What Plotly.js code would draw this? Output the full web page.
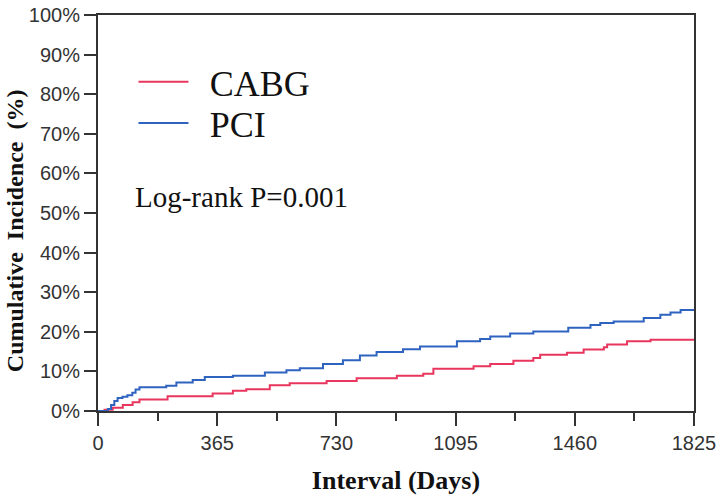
<!DOCTYPE html>
<html>
<head>
<meta charset="utf-8">
<script src="https://cdn.plot.ly/plotly-3.0.1.min.js"></script>
<style>html,body{margin:0;padding:0;background:#fff;}#chart{width:718px;height:495px;}</style>
</head>
<body>
<div id="chart"></div>
<script>
// Data
const seriesNames = ["CABG", "PCI"];
const cabgDays = [0, 20, 45, 76, 106, 127, 213, 351, 413, 454, 526, 587, 700, 792, 915, 996, 1027, 1150, 1201, 1272, 1333, 1354, 1436, 1487, 1549, 1559, 1620, 1692, 1825];
const cabgPct  = [0, 0.3, 0.8, 1.5, 2.2, 2.9, 3.7, 4.4, 5.1, 5.5, 6.5, 7.0, 7.6, 8.3, 8.9, 9.4, 10.7, 11.3, 11.9, 12.7, 13.4, 14.2, 14.7, 15.5, 16.1, 16.8, 17.6, 18.0, 18.0];
const pciDays = [0, 25, 30, 40, 50, 60, 75, 90, 105, 115, 127, 209, 240, 290, 327, 413, 511, 577, 618, 689, 750, 802, 853, 934, 986, 1099, 1170, 1201, 1262, 1333, 1440, 1508, 1538, 1579, 1671, 1722, 1753, 1784, 1825];
const pciPct  = [0, 0, 0.5, 1.5, 2.5, 3.3, 3.6, 4.0, 4.6, 5.4, 6.0, 6.4, 7.2, 7.8, 8.6, 8.9, 9.7, 10.3, 10.8, 11.9, 12.8, 14.0, 14.9, 15.6, 16.3, 17.6, 18.2, 18.8, 19.6, 20.1, 21.0, 21.7, 22.2, 22.6, 23.5, 24.3, 24.9, 25.5, 25.5];
const xTickVals = [0, 365, 730, 1095, 1460, 1825];
const yTickVals = [0, 10, 20, 30, 40, 50, 60, 70, 80, 90, 100];
const xTitle = "Interval (Days)";
const yTitle = "Cumulative\u00a0\u00a0Incidence\u00a0\u00a0(%)";
const annotationText = "Log-rank P=0.001";

const pad = '\u00a0\u2009';
const traces = [
  {x: cabgDays, y: cabgPct, name: pad + seriesNames[0], type: 'scatter', mode: 'lines',
   legend: 'legend', line: {shape: 'hv', color: '#e8365e', width: 2}},
  {x: pciDays, y: pciPct, name: pad + seriesNames[1], type: 'scatter', mode: 'lines',
   legend: 'legend2', line: {shape: 'hv', color: '#2f63c0', width: 2}}
];

const serif = 'Liberation Serif, Times New Roman, serif';
const legendStyle = (y) => ({x: 0.0595, y: y, xanchor: 'left', yanchor: 'middle',
  font: {family: serif, size: 36, color: '#111'},
  bgcolor: 'rgba(0,0,0,0)', itemwidth: 50});

const axisLine = '#333333';
const layout = {
  width: 718, height: 495, autosize: false,
  paper_bgcolor: '#ffffff', plot_bgcolor: '#ffffff',
  margin: {l: 98, r: 24, t: 15, b: 84, pad: 0},
  showlegend: true,
  legend: legendStyle(0.831),
  legend2: legendStyle(0.727),
  xaxis: {range: [0, 1825], tickvals: xTickVals, ticktext: xTickVals.map(String),
    showgrid: false, zeroline: false, showline: true, linecolor: axisLine, linewidth: 2, mirror: true,
    ticks: 'outside', ticklen: 13, tickwidth: 2, tickcolor: axisLine,
    minor: {dtick: 182.5, tick0: 0, ticks: 'outside', ticklen: 8, tickwidth: 2, tickcolor: axisLine, showgrid: false},
    tickfont: {family: 'Liberation Sans, Arial, sans-serif', size: 20, color: '#333'},
    title: {text: xTitle, standoff: 19,
      font: {family: serif, size: 26, color: '#111', weight: 'bold'}}},
  yaxis: {range: [0, 100], tickvals: yTickVals, ticktext: yTickVals.map(v => v + '%'),
    showgrid: false, zeroline: false, showline: true, linecolor: axisLine, linewidth: 2, mirror: true,
    ticks: 'outside', ticklen: 12, tickwidth: 2, tickcolor: axisLine,
    tickfont: {family: 'Liberation Sans, Arial, sans-serif', size: 20, color: '#333'}},
  annotations: [
    {text: annotationText, xref: 'paper', yref: 'paper', x: 0.058, y: 0.54,
     xanchor: 'left', yanchor: 'middle', showarrow: false,
     font: {family: serif, size: 29, color: '#111'}},
    {text: '<b>' + yTitle + '</b>', xref: 'paper', yref: 'paper', x: -0.139, y: 0.4545,
     xanchor: 'center', yanchor: 'middle', textangle: -90, showarrow: false,
     font: {family: serif, size: 24, color: '#111'}}
  ]
};

Plotly.newPlot('chart', traces, layout, {displayModeBar: false, staticPlot: true});
</script>
</body>
</html>
